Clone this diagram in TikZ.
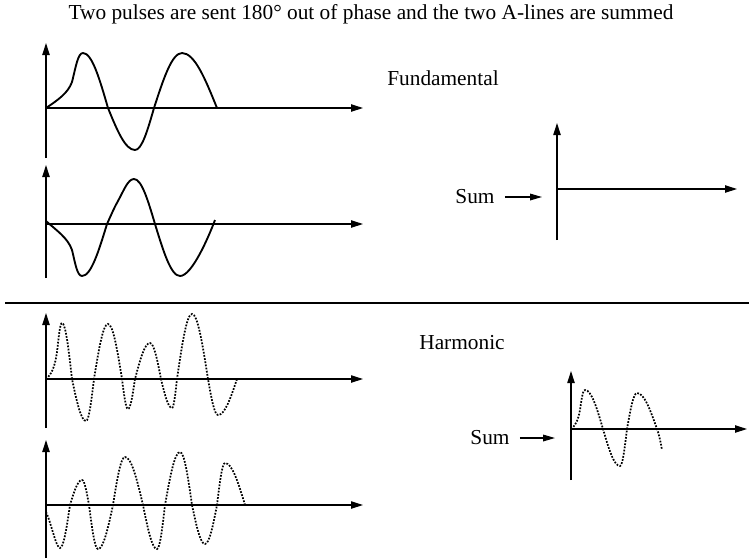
\documentclass[tikz,border=0pt]{standalone}
\usepackage{fontspec}
\setmainfont{Liberation Serif}
\usetikzlibrary{arrows.meta}
% quarter-sine pieces: zero -> extremum, extremum -> zero  (w = width, h = extremum offset from axis)
\newcommand\zp[2]{.. controls +({0.334*(#1)},{0.525*(#2)}) and +({-0.363*(#1)},0) .. ++(#1,#2)}
\newcommand\pz[2]{.. controls +({0.363*(#1)},0) and +({-0.334*(#1)},{0.525*(#2)}) .. ++(#1,{-1*(#2)})}
\begin{document}
\begin{tikzpicture}[x=0.75pt,y=-0.75pt,
  axis/.style={line width=0.9pt,-{Triangle[length=9pt,width=5.5pt]}},
  wave/.style={line width=1.4pt,line join=round},
  dotwave/.style={line width=1.3pt,dash pattern=on 1.3pt off 1.1pt},
  lbl/.style={font=\fontsize{16}{18}\selectfont,inner sep=0pt},
  sumarrow/.style={line width=0.9pt,-{Triangle[length=9pt,width=5pt]}}]
\useasboundingbox (0,0) rectangle (749,558);
% title
\node[lbl] (title) at (371,14) {Two pulses are sent 180\textdegree\ out of phase and the two A-lines are summed};
% divider
\coordinate (dL) at (5,303);
\coordinate (dR) at (749,303);
\draw[line width=0.9pt] (dL) -- (dR);

% ---- fundamental, first trace
\coordinate (a1b) at (46,158); \coordinate (a1t) at (46,43);
\coordinate (x1l) at (46,108); \coordinate (x1r) at (363,108);
\draw[axis] (a1b) -- (a1t);
\draw[axis] (x1l) -- (x1r);
\draw[wave] (46,108) .. controls (58,100) and (68,93) .. (72,82)
  .. controls (76,66) and (78,53) .. (83,53)
  \pz{25}{-55} \zp{27}{42} \pz{19}{42} \zp{28}{-55} \pz{35}{-55};

% ---- fundamental, second trace
\coordinate (a2b) at (46,278); \coordinate (a2t) at (46,165);
\coordinate (x2l) at (46,224); \coordinate (x2r) at (363,224);
\draw[axis] (a2b) -- (a2t);
\draw[axis] (x2l) -- (x2r);
\draw[wave] (46,221) .. controls (56,230) and (68,238) .. (72,250)
  .. controls (75,262) and (77,276) .. (82,276)
  \pz{25}{52}
  .. controls (112,213) and (115,206) .. (118,201)
  .. controls (124,190) and (128,179) .. (134,179)
  \pz{21}{-45} \zp{25}{52}
  .. controls +(12,0) and +(-6,16) .. (215,220);

% ---- fundamental sum
\node[lbl] (fund) at (443,78) {Fundamental};
\coordinate (s1b) at (557,240); \coordinate (s1t) at (557,123);
\coordinate (s1l) at (557,189); \coordinate (s1r) at (737,189);
\draw[axis] (s1b) -- (s1t);
\draw[axis] (s1l) -- (s1r);
\node[lbl] (sum1) at (475,197) {Sum};
\coordinate (sum1end) at (542,197);
\draw[sumarrow] (sum1.east) ++(7.5pt,0) coordinate (sum1start) (sum1start) -- (sum1end);

% ---- harmonic, first trace
\coordinate (h1b) at (46,428); \coordinate (h1t) at (46,313);
\coordinate (hx1l) at (46,379); \coordinate (hx1r) at (363,379);
\draw[axis] (h1b) -- (h1t);
\draw[axis] (hx1l) -- (hx1r);
\draw[dotwave] (46,379) .. controls (52,374) and (55,366) .. (57,352)
  .. controls (59,335) and (60,323) .. (62,323)
  \pz{10}{-56} \zp{14}{42} \pz{8}{42} \zp{14}{-55} \pz{14}{-55}
  \zp{6}{30} \pz{7}{30} \zp{15}{-36} \pz{11}{-36} \zp{11}{29} \pz{5}{29}
  \zp{15}{-65} \pz{16}{-65} \zp{10}{36} \pz{19}{36};

% ---- harmonic, second trace
\coordinate (h2b) at (46,558); \coordinate (h2t) at (46,440);
\coordinate (hx2l) at (46,505); \coordinate (hx2r) at (363,505);
\draw[axis] (h2b) -- (h2t);
\draw[axis] (hx2l) -- (hx2r);
\draw[dotwave] (46,512) .. controls (51,522) and (56,548) .. (60,548)
  \pz{10}{43} \zp{12}{-25} \pz{7}{-25} \zp{9}{44} \pz{15}{44}
  \zp{12}{-48} \pz{18}{-48} \zp{14}{44} \pz{8}{44} \zp{15}{-53} \pz{12}{-53}
  \zp{13}{39} \pz{12}{39} \zp{8}{-42} \pz{20}{-42};

% ---- harmonic sum
\node[lbl] (harm) at (462,343) {Harmonic};
\coordinate (s2b) at (571,480); \coordinate (s2t) at (571,371);
\coordinate (s2l) at (571,429); \coordinate (s2r) at (747,429);
\draw[axis] (s2b) -- (s2t);
\draw[axis] (s2l) -- (s2r);
\draw[dotwave] (571,429) .. controls (575,426) and (578,421) .. (580,410)
  .. controls (582,396) and (583,390) .. (585,390)
  \pz{18}{-39} \zp{17}{37} \pz{7}{37} \zp{10}{-36} \pz{20}{-36}
  .. controls +(2,5) and +(-1,-6) .. (662,450);
\node[lbl] (sum2) at (490,438) {Sum};
\coordinate (sum2end) at (555,438);
\draw[sumarrow] (sum2.east) ++(7.5pt,0) coordinate (sum2start) (sum2start) -- (sum2end);
\end{tikzpicture}
\end{document}
